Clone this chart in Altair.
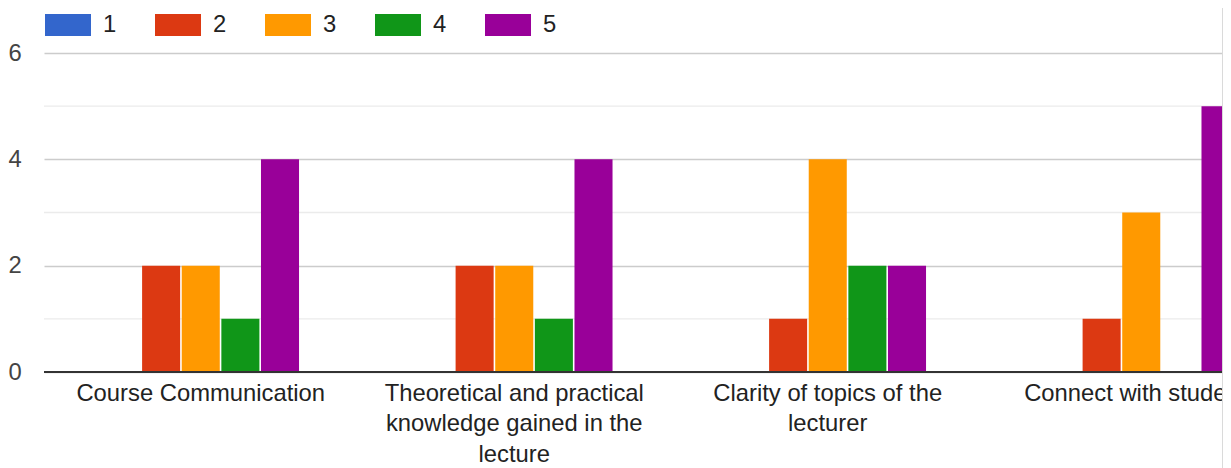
import altair as alt
import pandas as pd

categories = [
    "Course Communication",
    "Theoretical and practical\nknowledge gained in the\nlecture",
    "Clarity of topics of the\nlecturer",
    "Connect with students",
]
ratings = ["1", "2", "3", "4", "5"]
counts_1 = [0, 0, 0, 0]
counts_2 = [2, 2, 1, 1]
counts_3 = [2, 2, 4, 3]
counts_4 = [1, 1, 2, 0]
counts_5 = [4, 4, 2, 5]
colors = ["#3366cc", "#dc3912", "#ff9900", "#109618", "#990099"]
major_ticks = [0, 2, 4, 6]
minor_ticks = [1, 3, 5]

series = [counts_1, counts_2, counts_3, counts_4, counts_5]
rows = []
for r, vals in zip(ratings, series):
    for c, v in zip(categories, vals):
        rows.append({"category": c, "rating": r, "count": v})
df = pd.DataFrame(rows)

FONT = "Liberation Sans"
FS = 23.8
W = 1179
H = 319

x_enc = alt.X(
    "category:N",
    sort=categories,
    scale=alt.Scale(domain=categories, range=[0, 1254], paddingInner=0.373, paddingOuter=0.1865),
    axis=alt.Axis(
        title=None,
        labelAngle=0,
        labelExpr="split(datum.label, '\\n')",
        labelFont=FONT,
        labelFontSize=FS,
        labelColor="#222222",
        labelLineHeight=30.5,
        labelPadding=9,
        labelLimit=0,
        labelOverlap=False,
        domain=False,
        ticks=False,
        grid=False,
    ),
)

y_scale = alt.Scale(domain=[0, 6], nice=False)

bars = alt.Chart(df).mark_bar().encode(
    x=x_enc,
    xOffset=alt.XOffset("rating:N", sort=ratings, scale=alt.Scale(paddingInner=0.04)),
    y=alt.Y(
        "count:Q",
        scale=y_scale,
        axis=alt.Axis(
            title=None,
            values=major_ticks,
            grid=True,
            gridColor="#cccccc",
            gridWidth=1.3,
            domain=False,
            ticks=False,
            labelAlign="left",
            labelPadding=36,
            labelFont=FONT,
            labelFontSize=FS,
            labelColor="#444444",
        ),
    ),
    color=alt.Color(
        "rating:N",
        sort=ratings,
        scale=alt.Scale(domain=ratings, range=colors),
        legend=alt.Legend(
            title=None,
            orient="none",
            legendX=1,
            legendY=-51,
            direction="horizontal",
            symbolType="M-1,-0.478H1V0.478H-1Z",
            symbolSize=2116,
            symbolStrokeWidth=0,
            symbolOpacity=1,
            labelFont=FONT,
            labelFontSize=FS,
            labelColor="#222222",
            labelOffset=12,
            columnPadding=38,
            padding=0,
        ),
    ),
)

minor_df = pd.DataFrame({"v": minor_ticks})
minor = alt.Chart(minor_df).mark_rule(color="#ebebeb", strokeWidth=1.3).encode(
    y=alt.Y("v:Q", scale=y_scale)
)

base_df = pd.DataFrame({"v": [0]})
baseline = alt.Chart(base_df).mark_rule(color="#333333", strokeWidth=2).encode(
    y=alt.Y("v:Q", scale=y_scale)
)

border = alt.Chart(base_df).mark_rule(color="#dadada", strokeWidth=1).encode(
    x=alt.value(W - 0.5), y=alt.value(-45), y2=alt.value(H + 96)
)

chart = alt.layer(minor, bars, baseline, border).properties(
    width=W,
    height=H,
    autosize=alt.AutoSizeParams(type="none"),
    padding={"left": 36, "top": 45, "right": 0, "bottom": 96},
).configure_view(stroke=None)

chart.save("out.html", embed_options={"renderer": "svg", "actions": False})
